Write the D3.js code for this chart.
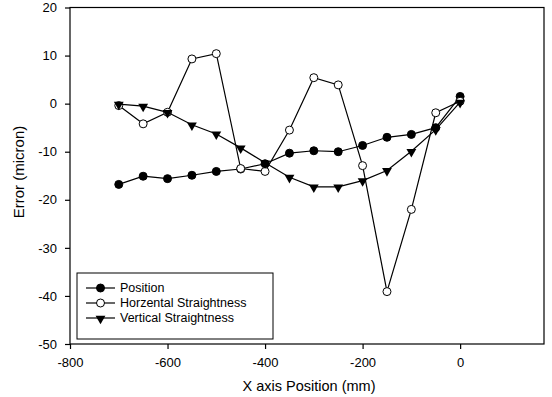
<!DOCTYPE html>
<html>
<head>
<meta charset="utf-8">
<script src="https://cdn.jsdelivr.net/npm/d3@7"></script>
<style>
  body { margin: 0; background: #fff; }
  text { font-family: "Liberation Sans", Arial, sans-serif; fill: #000; }
</style>
</head>
<body>
<script>
var width = 552, height = 397;

// data
var positions = [-700, -650, -600, -550, -500, -450, -400, -350, -300, -250, -200, -150, -100, -50, 0];
var position   = [-16.8, -15.1, -15.6, -14.9, -14.1, -13.6, -12.5, -10.3, -9.8, -10.0, -8.7, -7.0, -6.4, -5.0, 1.5];
var horizontal = [-0.4, -4.2, -1.8, 9.3, 10.4, -13.5, -14.1, -5.5, 5.4, 3.9, -12.9, -39.1, -22.0, -1.9, 0.5];
var vertical   = [-0.1, -0.5, -1.8, -4.4, -6.3, -9.2, -12.3, -15.3, -17.3, -17.3, -16.0, -13.9, -9.9, -5.4, 0.3];
var seriesNames = ["Position", "Horzental Straightness", "Vertical Straightness"];
var xTicks = [-800, -600, -400, -200, 0];
var yTicks = [-50, -40, -30, -20, -10, 0, 10, 20];

var series = [
  { name: seriesNames[0], values: position,   marker: "filled" },
  { name: seriesNames[1], values: horizontal, marker: "open" },
  { name: seriesNames[2], values: vertical,   marker: "tri" }
];

var margin = { left: 70, right: 8, top: 7.5, bottom: 53 };

var x = d3.scaleLinear()
  .domain([-800, 172])
  .range([margin.left, width - margin.right]);

var y = d3.scaleLinear()
  .domain([-50, 20])
  .range([height - margin.bottom, margin.top]);

var svg = d3.select("body")
  .append("svg")
  .attr("width", width)
  .attr("height", height);

// frame
svg.append("rect")
  .attr("x", x.range()[0])
  .attr("y", y.range()[1])
  .attr("width", x.range()[1] - x.range()[0])
  .attr("height", y.range()[0] - y.range()[1])
  .attr("fill", "none")
  .attr("stroke", "#000")
  .attr("stroke-width", 1.2);

// plain hyphen for negatives, like the original
var fmt = function (d) { return String(d); };

var xAxis = svg.append("g")
  .attr("transform", "translate(0," + y.range()[0] + ")")
  .call(d3.axisBottom(x).tickValues(xTicks).tickFormat(fmt).tickSize(5).tickPadding(9));

var yAxis = svg.append("g")
  .attr("transform", "translate(" + x.range()[0] + ",0)")
  .call(d3.axisLeft(y).tickValues(yTicks).tickFormat(fmt).tickSize(5).tickPadding(8));

[xAxis, yAxis].forEach(function (g) {
  g.select(".domain").remove();
  g.selectAll("line").attr("stroke", "#000").attr("stroke-width", 1.2);
  g.selectAll("text")
    .attr("font-size", 13)
    .attr("font-family", "'Liberation Sans', Arial, sans-serif");
});

// axis titles
svg.append("text")
  .attr("x", 309)
  .attr("y", 391)
  .attr("text-anchor", "middle")
  .attr("font-size", 14.5)
  .text("X axis Position (mm)");

svg.append("text")
  .attr("transform", "translate(23.5," + 172 + ") rotate(-90)")
  .attr("text-anchor", "middle")
  .attr("font-size", 15)
  .text("Error (micron)");

var line = d3.line()
  .x(function (d, i) { return x(positions[i]); })
  .y(function (d) { return y(d); });

var triangle = d3.symbol().type(d3.symbolTriangle).size(42);

function drawMarker(g, type, cx, cy) {
  if (type === "tri") {
    g.append("path")
      .attr("d", triangle())
      .attr("transform", "translate(" + cx + "," + (cy + 0.5) + ") rotate(180)")
      .attr("fill", "#000");
  } else {
    g.append("circle")
      .attr("cx", cx)
      .attr("cy", cy)
      .attr("r", 4)
      .attr("fill", type === "filled" ? "#000" : "#fff")
      .attr("stroke", "#000")
      .attr("stroke-width", 1);
  }
}

series.forEach(function (s) {
  var g = svg.append("g");
  g.append("path")
    .attr("d", line(s.values))
    .attr("fill", "none")
    .attr("stroke", "#000")
    .attr("stroke-width", 1.2);
  s.values.forEach(function (v, i) {
    drawMarker(g, s.marker, x(positions[i]), y(v));
  });
});

// legend
var legend = svg.append("g").attr("transform", "translate(77,273)");
legend.append("rect")
  .attr("width", 196)
  .attr("height", 66)
  .attr("fill", "#fff")
  .attr("stroke", "#000")
  .attr("stroke-width", 1);

series.forEach(function (s, i) {
  var row = legend.append("g").attr("transform", "translate(0," + (15 + i * 15) + ")");
  row.append("line")
    .attr("x1", 9).attr("x2", 38)
    .attr("stroke", "#000")
    .attr("stroke-width", 1.2);
  drawMarker(row, s.marker, 23.5, 0);
  row.append("text")
    .attr("x", 43)
    .attr("dy", "0.35em")
    .attr("font-size", 12.5)
    .text(s.name);
});
</script>
</body>
</html>
